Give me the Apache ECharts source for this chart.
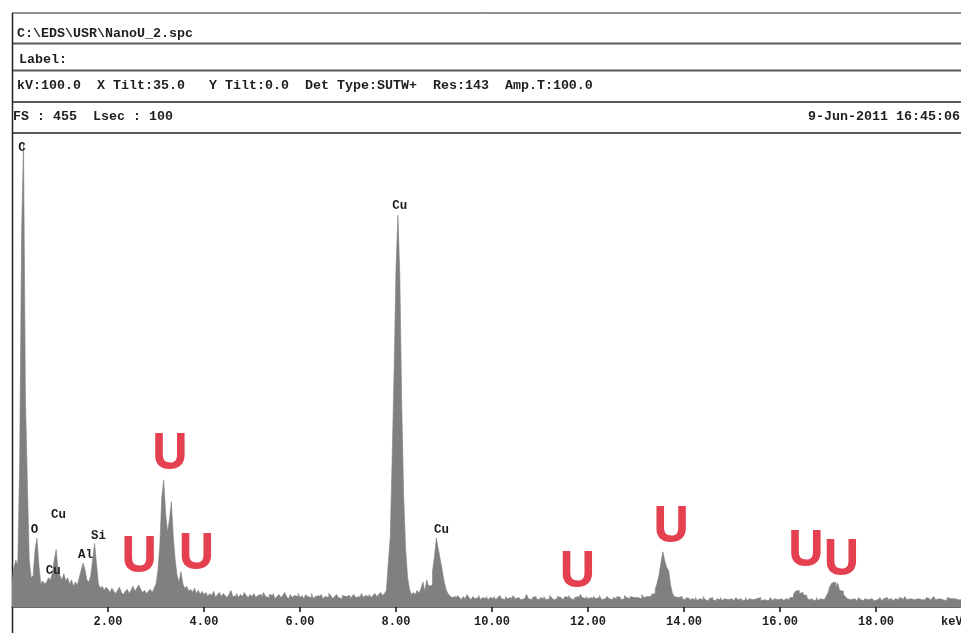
<!DOCTYPE html>
<html><head><meta charset="utf-8">
<script src="https://cdn.jsdelivr.net/npm/echarts@6/dist/echarts.min.js"></script>
<style>html,body{margin:0;padding:0;background:#fff}#c{width:961px;height:635px}</style>
</head><body><div id="c"></div>
<script>
// ---- Data: EDS spectrum (counts per 0.04 keV channel) ----
const channelStartKeV = 0;
const channelWidthKeV = 0.04;
const counts = [
  // 0-1 keV
  25, 38, 45, 40, 140, 360, 445, 200, 120, 45, 28, 30, 55, 66, 40, 22, 25, 22, 24, 28, 26, 32, 45, 55, 35,
  // 1-2 keV
  30, 26, 32, 25, 28, 22, 26, 20, 24, 21, 28, 35, 42, 36, 26, 24, 30, 45, 61, 42, 22, 18, 20, 16, 19,
  // 2-3 keV
  17, 14, 18, 15, 13, 16, 19, 14, 12, 15, 17, 13, 16, 20, 15, 18, 21, 17, 14, 16, 13, 15, 17, 14, 18,
  // 3-4 keV
  22, 35, 60, 105, 122, 90, 72, 84, 101, 68, 45, 30, 24, 34, 22, 18, 20, 15, 17, 14, 18, 13, 16, 12, 15,
  // 4-5 keV
  12, 14, 10, 13, 11, 15, 9, 12, 14, 10, 13, 11, 9, 12, 16, 10, 11, 13, 9, 12, 10, 14, 11, 9, 12,
  // 5-6 keV
  10, 13, 9, 11, 12, 8, 14, 10, 9, 12, 11, 13, 8, 10, 12, 9, 11, 14, 10, 8, 12, 9, 11, 10, 13,
  // 6-7 keV
  9, 11, 8, 12, 10, 9, 13, 8, 10, 11, 9, 12, 8, 10, 9, 13, 11, 8, 10, 12, 9, 8, 11, 10, 9,
  // 7-8 keV
  11, 8, 10, 12, 9, 10, 8, 13, 9, 11, 10, 12, 9, 11, 13, 10, 12, 14, 11, 13, 16, 43, 67, 144, 226,
  // 8-9 keV
  326, 376, 317, 192, 106, 56, 29, 17, 12, 14, 12, 16, 13, 18, 24, 15, 26, 20, 21, 34, 48, 66, 56, 46, 36,
  // 9-10 keV
  25, 17, 13, 11, 9, 10, 8, 11, 9, 7, 10, 8, 12, 9, 7, 10, 8, 9, 11, 7, 9, 8, 10, 7, 9,
  // 10-11 keV
  8, 10, 7, 9, 11, 8, 7, 10, 8, 9, 7, 11, 8, 9, 10, 7, 8, 9, 12, 8, 7, 9, 10, 8, 7,
  // 11-12 keV
  9, 8, 10, 7, 8, 11, 9, 7, 8, 10, 9, 8, 7, 10, 9, 11, 8, 7, 9, 10, 8, 12, 9, 8, 10,
  // 12-13 keV
  8, 9, 7, 10, 8, 9, 11, 7, 8, 9, 10, 8, 7, 9, 8, 10, 9, 7, 8, 11, 9, 8, 10, 9, 8,
  // 13-14 keV
  9, 10, 8, 12, 9, 10, 9, 10, 12, 13, 17, 23, 31, 43, 53, 44, 38, 35, 21, 13, 10, 9, 8, 10, 8,
  // 14-15 keV
  7, 9, 8, 6, 8, 7, 9, 6, 8, 7, 10, 7, 6, 8, 9, 7, 6, 8, 7, 9, 6, 8, 7, 6, 8,
  // 15-16 keV
  7, 6, 9, 7, 8, 6, 7, 9, 6, 8, 7, 6, 8, 7, 9, 6, 7, 8, 6, 7, 9, 6, 8, 7, 6,
  // 16-17 keV
  8, 7, 6, 8, 7, 9, 9, 12, 15, 16, 13, 14, 12, 11, 9, 7, 8, 6, 7, 9, 6, 8, 7, 8, 10,
  // 17-18 keV
  14, 20, 23, 24, 19, 23, 16, 15, 12, 10, 8, 7, 6, 8, 7, 6, 9, 7, 6, 8, 7, 6, 8, 7, 6,
  // 18-19 keV
  7, 8, 9, 6, 8, 9, 7, 8, 9, 6, 8, 7, 9, 8, 6, 10, 7, 8, 9, 7, 6, 8, 9, 7, 8,
  // 19-19.76 keV
  7, 9, 8, 6, 8, 10, 7, 8, 9, 7, 8, 6, 9, 8, 7, 8, 9, 7, 8, 7
];

// X axis
const xMinKeV = 0;
const xMaxKeV = 19.77;
const xTickStep = 2;
const fullScaleCounts = 455;

// Header texts
const headerTitle = 'C:\\EDS\\USR\\NanoU_2.spc';
const headerLabel = 'Label:';
const headerParams = 'kV:100.0  X Tilt:35.0   Y Tilt:0.0  Det Type:SUTW+  Res:143  Amp.T:100.0';
const headerFS = 'FS : 455  Lsec : 100';
const headerDate = '9-Jun-2011 16:45:06';
const axisUnit = 'keV';

// Peak identification labels (text, keV, counts)
const peakLabelText  = ['C', 'O', 'Cu', 'Cu', 'Al', 'Si', 'Cu', 'Cu'];
const peakLabelKeV   = [0.21, 0.47, 0.97, 0.86, 1.53, 1.80, 8.08, 8.95];
const peakLabelCount = [441, 74, 88, 35, 50, 68, 385, 74];

// Uranium line markers (text, keV, counts)
const uLabelText  = ['U', 'U', 'U', 'U', 'U', 'U', 'U'];
const uLabelKeV   = [3.29, 2.65, 3.84, 11.78, 13.73, 16.54, 17.28];
const uLabelCount = [150, 51, 54, 37, 80, 57, 48];

// ---- Build ----
const spectrum = counts.map((v, i) => [channelStartKeV + i * channelWidthKeV, v]);
spectrum.push([channelStartKeV + counts.length * channelWidthKeV, counts[counts.length - 1]]);

const mono = '"Liberation Mono", "DejaVu Sans Mono", monospace';
const ink = '#1e1e1e';
const gridLine = '#5a5a5a';

function hline(y, w, color) {
  return { type: 'line', silent: true, shape: { x1: 12, y1: y, x2: 961, y2: y },
           style: { stroke: color, lineWidth: w } };
}
function htext(str, x, y, align) {
  return { type: 'text', silent: true, x: x, y: y,
           style: { text: str, font: 'bold 13.33px ' + mono, fill: ink,
                    align: align || 'left', verticalAlign: 'middle' } };
}

const chart = echarts.init(document.getElementById('c'), null, { renderer: 'canvas' });
chart.setOption({
  animation: false,
  backgroundColor: '#ffffff',
  grid: { left: 12, right: 0, top: 133, bottom: 28, containLabel: false },
  xAxis: {
    type: 'value', min: xMinKeV, max: xMaxKeV, interval: xTickStep,
    axisLine: { show: true, onZero: false, lineStyle: { color: '#3a3a3a', width: 1.5 } },
    axisTick: { show: true, length: 5, lineStyle: { color: '#111', width: 1.5 } },
    axisLabel: {
      showMinLabel: false, showMaxLabel: false, margin: 9,
      fontFamily: mono, fontWeight: 'bold', fontSize: 12, color: ink,
      formatter: v => (v === 0 ? '' : v.toFixed(2))
    },
    splitLine: { show: false }
  },
  yAxis: {
    type: 'value', min: 0, max: fullScaleCounts,
    show: false, splitLine: { show: false }
  },
  series: [
    {
      type: 'line', data: spectrum, step: 'end', symbol: 'none',
      lineStyle: { color: '#808080', width: 0.6 },
      areaStyle: { color: '#808080', opacity: 1 },
      itemStyle: { color: '#808080' },
      silent: true, z: 2
    },
    {
      type: 'scatter', silent: true, z: 5,
      symbolSize: 1, itemStyle: { color: 'rgba(0,0,0,0)', opacity: 1 },
      data: peakLabelText.map((t, i) => ({ value: [peakLabelKeV[i], peakLabelCount[i]], name: t })),
      label: {
        show: true, position: 'inside', formatter: p => p.name, opacity: 1,
        fontFamily: mono, fontWeight: 'bold', fontSize: 12.5, color: ink,
        align: 'center', verticalAlign: 'middle'
      }
    },
    {
      type: 'scatter', silent: true, z: 6,
      symbolSize: 1, itemStyle: { color: 'rgba(0,0,0,0)', opacity: 1 },
      data: uLabelText.map((t, i) => ({ value: [uLabelKeV[i], uLabelCount[i]], name: t })),
      label: {
        show: true, position: 'inside', formatter: p => p.name, opacity: 1, offset: [0, 4],
        fontFamily: '"Open Sans", "Noto Sans", sans-serif', fontWeight: 'bold', fontSize: 50,
        color: '#e5404f', align: 'center', verticalAlign: 'middle'
      }
    }
  ],
  graphic: [
    hline(13, 1, '#222'),
    hline(43.5, 2, gridLine),
    hline(70.5, 2, gridLine),
    hline(102, 2, gridLine),
    hline(133, 2, gridLine),
    { type: 'line', silent: true, shape: { x1: 12.5, y1: 13, x2: 12.5, y2: 633 },
      style: { stroke: '#222', lineWidth: 1.5 } },
    htext(headerTitle, 17, 34),
    htext(headerLabel, 19, 60),
    htext(headerParams, 17, 86),
    htext(headerFS, 13, 117),
    htext(headerDate, 960, 117, 'right'),
    { type: 'text', silent: true, x: 941, y: 622,
      style: { text: axisUnit, font: 'bold 12px ' + mono, fill: ink, align: 'left', verticalAlign: 'middle' } }
  ]
});
</script>
</body></html>
